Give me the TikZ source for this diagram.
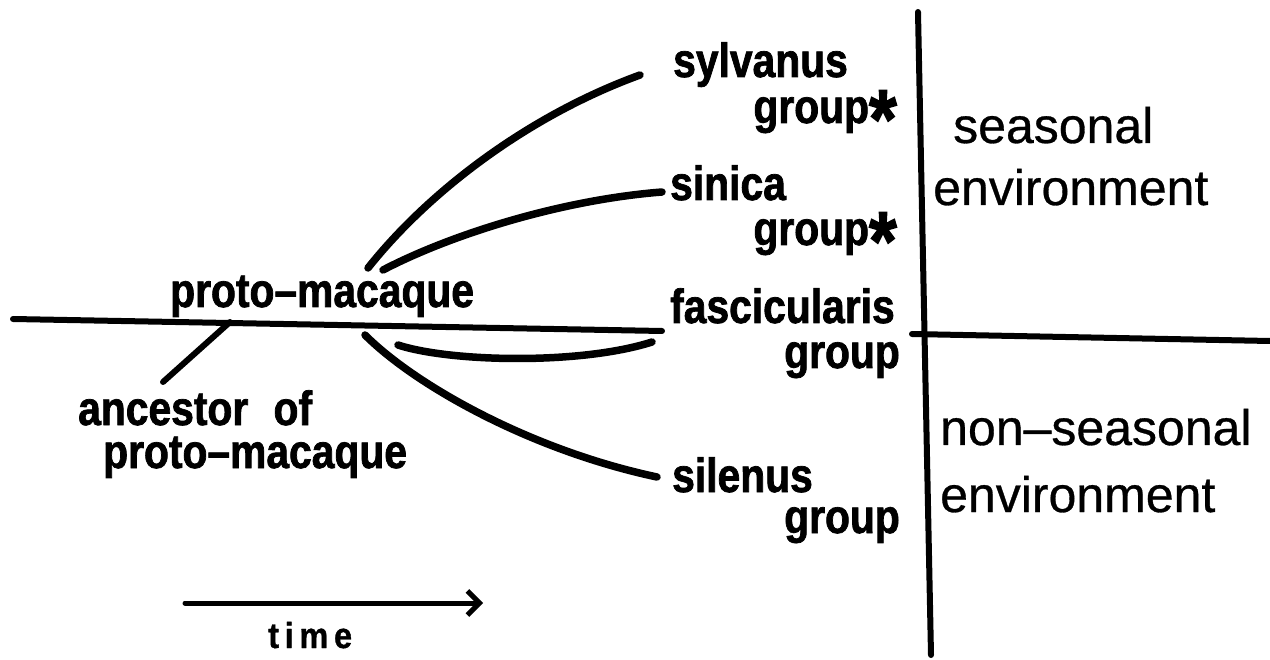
\documentclass[tikz,border=0pt]{standalone}
\usepackage{fontspec}
\setmainfont{Liberation Sans}
\newfontfamily\lblfont[UprightFont={* Bold}, FakeStretch=0.85, FakeBold=1.5]{Liberation Sans}
\newfontfamily\timefont[UprightFont={* Bold}, FakeStretch=0.9, FakeBold=1, LetterSpace=16]{Liberation Sans}
\newfontfamily\envfont[FakeBold=0.6]{Liberation Sans}
\usetikzlibrary{arrows.meta}
\newcommand\grpast{\raisebox{-25pt}{\fontsize{84}{84}\selectfont *}}
\begin{document}
\begin{tikzpicture}[x=1pt,y=-1pt,
  lab/.style={font=\fontsize{48}{48}\selectfont\lblfont, inner sep=0pt},
  env/.style={font=\fontsize{50}{50}\selectfont\envfont, inner sep=0pt},
  branch/.style={line width=7.5pt, line cap=round},
  axis/.style={line width=6pt, line cap=round}]
\useasboundingbox (0,0) rectangle (1270,660);
% labels
\node[lab, anchor=base west] (pm) at (170,307) {proto–macaque};
\node[lab, anchor=base west] (anc1) at (78,425) {ancestor\hspace{14pt} of};
\node[lab, anchor=base west] (anc2) at (103,468) {proto–macaque};
\node[lab, anchor=base west] (syl) at (673,77) {sylvanus};
\node[lab, anchor=base east] (sylg) at (897,123) {group\grpast};
\node[lab, anchor=base west] (sin) at (670,200) {sinica};
\node[lab, anchor=base east] (sing) at (897,245) {group\grpast};
\node[lab, anchor=base west] (fas) at (670,323) {fascicularis};
\node[lab, anchor=base east] (fasg) at (900,368) {group};
\node[lab, anchor=base west] (sil) at (672,492) {silenus};
\node[lab, anchor=base east] (silg) at (900,533) {group};
\node[font=\fontsize{36}{36}\selectfont\timefont, inner sep=0pt, anchor=base west] (time) at (268,648) {time};
% environment labels
\node[env, anchor=base west] (s1) at (953,143) {seasonal};
\node[env, anchor=base west] (s2) at (933,205) {environment};
\node[env, anchor=base west] (n1) at (940,445) {non–seasonal};
\node[env, anchor=base west] (n2) at (940,512) {environment};
% coordinates
\coordinate (hl1) at (13,319);
\coordinate (hl2) at (662,331);
\coordinate (hr1) at (912,334);
\coordinate (hr2) at (1270,341);
\coordinate (v1) at (918,12);
\coordinate (v2) at (931,655);
\coordinate (a1) at (163,382);
\coordinate (a2) at (230,322);
\coordinate (o1) at (368,268);
\coordinate (o2) at (383,270);
\coordinate (o3) at (398,345);
\coordinate (o4) at (365,335);
\coordinate (e1) at (640,75);
\coordinate (e2) at (662,192);
\coordinate (e3) at (652,342);
\coordinate (e4) at (657,477);
\coordinate (t1) at (185,603);
\coordinate (t2) at (483,603);
% lines
\draw[axis] (hl1) -- (hl2);
\draw[axis] (hr1) -- (hr2);
\draw[axis] (v1) -- (v2);
\draw[axis] (a1) -- (a2);
\draw[branch] (o1) .. controls (430,190) and (530,115) .. (e1);
\draw[branch] (o2) .. controls (450,235) and (560,200) .. (e2);
\draw[branch] (o3) .. controls (450,362) and (580,365) .. (e3);
\draw[branch] (o4) .. controls (415,385) and (530,450) .. (e4);
\draw[axis, line width=5pt, -{Straight Barb[length=12pt,width=24pt,line width=5pt]}] (t1) -- (t2);
\end{tikzpicture}
\end{document}
